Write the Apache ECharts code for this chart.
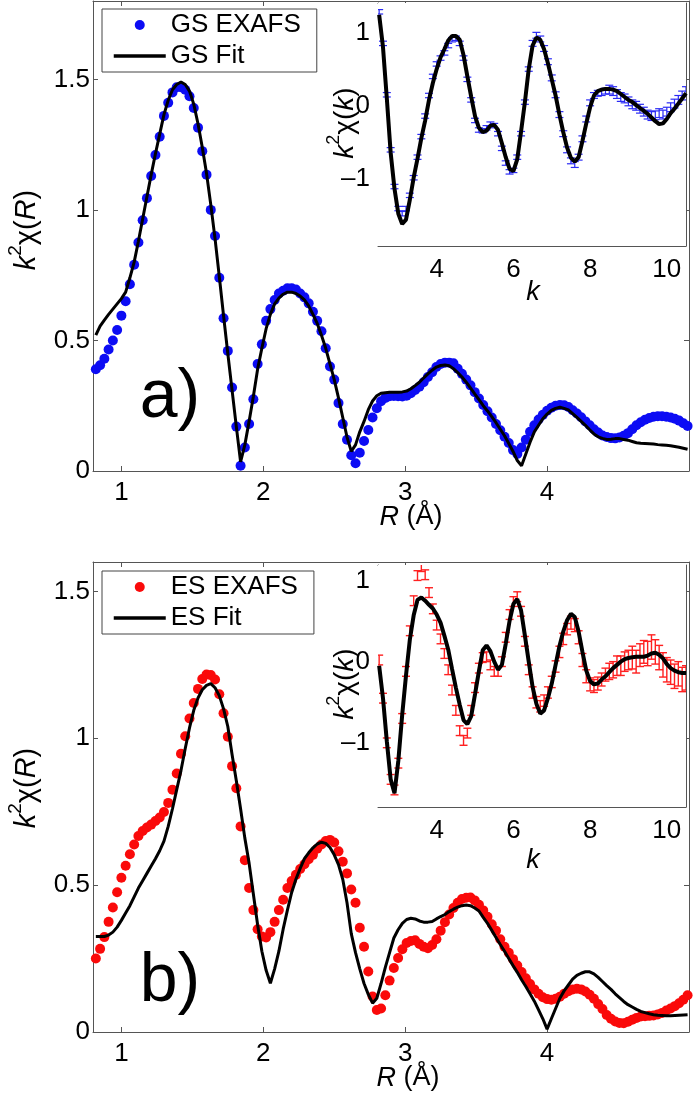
<!DOCTYPE html>
<html>
<head>
<meta charset="utf-8">
<script src="https://cdn.jsdelivr.net/npm/echarts@6/dist/echarts.min.js"></script>
<style>html,body{margin:0;padding:0;background:#fff;}#c{width:695px;height:1098px;}</style>
</head>
<body>
<div id="c"></div>
<script>
// ---------- DATA ----------
const rGrid = [0.82,0.85,0.88,0.91,0.94,0.97,1.00,1.03,1.06,1.09,
1.12,1.15,1.18,1.21,1.24,1.27,1.30,1.33,1.36,1.39,
1.42,1.45,1.48,1.51,1.54,1.57,1.60,1.63,1.66,1.69,
1.72,1.75,1.78,1.81,1.84,1.87,1.90,1.93,1.96,1.99,
2.02,2.05,2.08,2.11,2.14,2.17,2.20,2.23,2.26,2.29,
2.32,2.35,2.38,2.41,2.44,2.47,2.50,2.53,2.56,2.59,
2.62,2.65,2.68,2.71,2.74,2.77,2.80,2.83,2.86,2.89,
2.92,2.95,2.98,3.01,3.04,3.07,3.10,3.13,3.16,3.19,
3.22,3.25,3.28,3.31,3.34,3.37,3.40,3.43,3.46,3.49,
3.52,3.55,3.58,3.61,3.64,3.67,3.70,3.73,3.76,3.79,
3.82,3.85,3.88,3.91,3.94,3.97,4.00,4.03,4.06,4.09,
4.12,4.15,4.18,4.21,4.24,4.27,4.30,4.33,4.36,4.39,
4.42,4.45,4.48,4.51,4.54,4.57,4.60,4.63,4.66,4.69,
4.72,4.75,4.78,4.81,4.84,4.87,4.90,4.93,4.96,4.99];

const gsExafsR = [0.39,0.405,0.43,0.465,0.50,0.54,0.595,0.65,0.715,0.79,
0.875,0.96,1.045,1.13,1.21,1.28,1.36,1.41,1.45,1.47,
1.47,1.46,1.435,1.39,1.315,1.225,1.135,1.00,0.90,0.74,
0.585,0.46,0.32,0.17,0.02,0.09,0.18,0.275,0.41,0.485,
0.575,0.62,0.655,0.68,0.69,0.70,0.70,0.695,0.68,0.665,
0.642,0.61,0.575,0.535,0.47,0.40,0.35,0.26,0.18,0.12,
0.06,0.03,0.07,0.115,0.157,0.205,0.24,0.267,0.28,0.286,
0.287,0.286,0.285,0.288,0.298,0.31,0.323,0.34,0.36,0.378,
0.398,0.41,0.415,0.415,0.413,0.392,0.372,0.35,0.328,0.302,
0.278,0.253,0.229,0.205,0.18,0.156,0.131,0.107,0.08,0.065,
0.09,0.12,0.15,0.175,0.197,0.215,0.231,0.242,0.25,0.253,
0.252,0.245,0.233,0.22,0.206,0.19,0.175,0.16,0.147,0.136,
0.13,0.126,0.125,0.128,0.135,0.145,0.16,0.175,0.187,0.196,
0.203,0.208,0.21,0.21,0.208,0.205,0.2,0.193,0.183,0.172];

const gsFitR = [0.52,0.555,0.578,0.60,0.62,0.64,0.66,0.685,0.74,0.80,
0.88,0.965,1.05,1.135,1.215,1.29,1.365,1.42,1.46,1.48,
1.49,1.48,1.455,1.405,1.33,1.24,1.14,1.02,0.89,0.745,
0.595,0.45,0.31,0.17,0.035,0.10,0.19,0.285,0.39,0.47,
0.545,0.60,0.64,0.662,0.677,0.685,0.685,0.68,0.67,0.655,
0.632,0.60,0.565,0.52,0.47,0.41,0.35,0.28,0.205,0.13,
0.075,0.10,0.15,0.19,0.235,0.268,0.288,0.298,0.30,0.302,
0.302,0.302,0.303,0.306,0.315,0.327,0.34,0.356,0.372,0.386,
0.398,0.404,0.406,0.403,0.392,0.377,0.36,0.34,0.318,0.295,
0.273,0.25,0.23,0.208,0.185,0.16,0.135,0.105,0.075,0.04,
0.02,0.065,0.11,0.15,0.175,0.2,0.218,0.232,0.24,0.244,
0.24,0.234,0.22,0.205,0.19,0.175,0.158,0.142,0.131,0.125,
0.121,0.122,0.124,0.124,0.121,0.118,0.113,0.108,0.106,0.105,
0.104,0.103,0.101,0.1,0.099,0.097,0.094,0.091,0.087,0.083];

const esExafsR = [0.25,0.283,0.323,0.375,0.424,0.476,0.525,0.566,0.605,0.638,
0.667,0.684,0.696,0.706,0.718,0.73,0.749,0.78,0.825,0.88,
0.947,1.007,1.067,1.12,1.168,1.202,1.217,1.215,1.2,1.15,
1.085,1.005,0.905,0.83,0.70,0.585,0.49,0.415,0.35,0.325,
0.322,0.34,0.375,0.415,0.45,0.49,0.514,0.535,0.555,0.571,
0.588,0.603,0.624,0.638,0.65,0.654,0.645,0.615,0.58,0.54,
0.485,0.44,0.355,0.29,0.206,0.121,0.075,0.08,0.125,0.175,
0.218,0.252,0.282,0.303,0.31,0.312,0.3,0.29,0.285,0.296,
0.316,0.345,0.374,0.4,0.422,0.44,0.453,0.457,0.458,0.448,
0.433,0.414,0.392,0.367,0.345,0.316,0.29,0.27,0.248,0.226,
0.204,0.183,0.163,0.145,0.13,0.118,0.112,0.11,0.113,0.12,
0.13,0.139,0.145,0.147,0.145,0.138,0.127,0.113,0.095,0.078,
0.058,0.045,0.036,0.031,0.03,0.035,0.042,0.048,0.053,0.054,
0.055,0.056,0.06,0.065,0.073,0.08,0.088,0.098,0.11,0.125];

const esFitR = [0.325,0.325,0.325,0.33,0.34,0.357,0.38,0.405,0.43,0.46,
0.49,0.515,0.54,0.565,0.59,0.617,0.65,0.70,0.76,0.825,
0.89,0.965,1.035,1.095,1.137,1.165,1.18,1.186,1.172,1.145,
1.1,1.04,0.945,0.855,0.76,0.66,0.575,0.47,0.365,0.275,
0.21,0.166,0.215,0.275,0.35,0.415,0.475,0.52,0.557,0.59,
0.61,0.627,0.64,0.646,0.642,0.628,0.603,0.57,0.52,0.44,
0.335,0.27,0.215,0.165,0.128,0.098,0.115,0.165,0.22,0.27,
0.32,0.348,0.37,0.383,0.387,0.385,0.378,0.374,0.374,0.376,
0.385,0.393,0.4,0.41,0.418,0.425,0.43,0.432,0.43,0.422,
0.412,0.39,0.37,0.346,0.322,0.298,0.275,0.25,0.226,0.203,
0.178,0.155,0.13,0.105,0.075,0.045,0.01,0.045,0.08,0.115,
0.14,0.16,0.18,0.193,0.2,0.205,0.205,0.198,0.186,0.172,
0.158,0.145,0.13,0.117,0.104,0.093,0.085,0.077,0.07,0.066,
0.062,0.059,0.057,0.056,0.055,0.055,0.056,0.057,0.058,0.059];

const kGrid = [2.5,2.6,2.7,2.8,2.9,3.0,3.1,3.2,3.3,3.4,
3.5,3.6,3.7,3.8,3.9,4.0,4.1,4.2,4.3,4.4,
4.5,4.6,4.7,4.8,4.9,5.0,5.1,5.2,5.3,5.4,
5.5,5.6,5.7,5.8,5.9,6.0,6.1,6.2,6.3,6.4,
6.5,6.6,6.7,6.8,6.9,7.0,7.1,7.2,7.3,7.4,
7.5,7.6,7.7,7.8,7.9,8.0,8.1,8.2,8.3,8.4,
8.5,8.6,8.7,8.8,8.9,9.0,9.1,9.2,9.3,9.4,
9.5,9.6,9.7,9.8,9.9,10.0,10.1,10.2,10.3,10.4,
10.5];

const gsExafsK = [1.28,0.85,0.15,-0.6,-1.1,-1.4,-1.47,-1.4,-1.22,-0.98,
-0.7,-0.42,-0.14,0.14,0.4,0.57,0.65,0.72,0.82,0.9,
0.92,0.85,0.65,0.36,0.08,-0.2,-0.33,-0.34,-0.3,-0.25,
-0.27,-0.38,-0.58,-0.78,-0.9,-0.88,-0.7,-0.38,0.05,0.5,
0.85,0.96,0.91,0.78,0.6,0.38,0.15,-0.12,-0.38,-0.6,
-0.75,-0.8,-0.7,-0.45,-0.18,0.04,0.14,0.17,0.18,0.2,
0.22,0.2,0.16,0.12,0.1,0.06,0.02,0.0,-0.04,-0.08,
-0.12,-0.14,-0.13,-0.1,-0.12,-0.08,-0.02,0.03,0.08,0.14,
0.2];

const gsErrK = [0.03,0.03,0.03,0.03,0.03,0.03,0.03,0.03,0.03,0.03,
0.03,0.03,0.03,0.03,0.03,0.03,0.03,0.03,0.03,0.03,
0.03,0.03,0.03,0.03,0.03,0.03,0.03,0.03,0.03,0.03,
0.03,0.03,0.03,0.03,0.03,0.03,0.03,0.03,0.03,0.03,
0.04,0.04,0.04,0.04,0.04,0.04,0.04,0.04,0.04,0.04,
0.04,0.04,0.04,0.04,0.04,0.04,0.04,0.04,0.04,0.04,
0.06,0.06,0.06,0.06,0.06,0.06,0.06,0.06,0.06,0.06,
0.06,0.06,0.06,0.06,0.06,0.06,0.06,0.06,0.06,0.06,
0.06];

const gsFitK = [1.24,0.8,0.1,-0.64,-1.13,-1.47,-1.61,-1.55,-1.28,-0.98,
-0.72,-0.44,-0.2,0.08,0.31,0.5,0.66,0.77,0.89,0.95,
0.95,0.9,0.69,0.4,0.12,-0.14,-0.3,-0.36,-0.34,-0.27,
-0.26,-0.33,-0.51,-0.7,-0.86,-0.89,-0.73,-0.35,0.05,0.5,
0.82,0.93,0.9,0.77,0.58,0.36,0.14,-0.12,-0.36,-0.57,
-0.71,-0.76,-0.7,-0.48,-0.24,-0.02,0.14,0.2,0.22,0.23,
0.23,0.22,0.2,0.16,0.12,0.08,0.05,0.01,-0.03,-0.07,
-0.11,-0.16,-0.21,-0.25,-0.24,-0.18,-0.1,-0.04,0.03,0.1,
0.17];

const esExafsK = [0.02,-0.45,-1.0,-1.45,-1.58,-1.25,-0.7,-0.12,0.38,0.75,
1.06,1.17,1.07,0.85,0.65,0.45,0.28,0.1,-0.1,-0.35,
-0.6,-0.85,-0.97,-0.88,-0.6,-0.32,-0.08,0.05,0.06,-0.04,
-0.12,-0.12,0.0,0.3,0.58,0.74,0.8,0.62,0.25,-0.1,
-0.38,-0.5,-0.55,-0.48,-0.38,-0.25,-0.06,0.12,0.28,0.4,
0.48,0.45,0.3,0.02,-0.18,-0.28,-0.3,-0.27,-0.22,-0.16,
-0.12,-0.1,-0.05,-0.05,0.0,0.02,0.05,0.0,0.08,0.12,
0.1,0.18,0.12,0.05,-0.04,-0.1,-0.13,-0.18,-0.15,-0.22,
-0.2];

const esErrK = [0.06,0.06,0.06,0.06,0.06,0.06,0.06,0.06,0.06,0.06,
0.06,0.06,0.06,0.06,0.06,0.06,0.06,0.06,0.06,0.06,
0.06,0.06,0.06,0.06,0.06,0.06,0.06,0.06,0.06,0.06,
0.06,0.06,0.06,0.06,0.06,0.06,0.06,0.06,0.06,0.06,
0.07,0.07,0.07,0.07,0.07,0.07,0.07,0.07,0.07,0.07,
0.08,0.08,0.08,0.08,0.08,0.08,0.08,0.08,0.08,0.08,
0.1,0.1,0.12,0.12,0.12,0.12,0.14,0.14,0.14,0.14,
0.15,0.15,0.15,0.15,0.15,0.15,0.15,0.15,0.15,0.15,
0.15];

const esFitK = [-0.05,-0.45,-0.98,-1.45,-1.62,-1.22,-0.66,-0.17,0.27,0.57,
0.76,0.79,0.75,0.7,0.655,0.58,0.48,0.32,0.15,-0.09,
-0.32,-0.53,-0.72,-0.77,-0.67,-0.4,-0.12,0.14,0.2,0.13,
0.0,-0.1,-0.04,0.22,0.5,0.71,0.77,0.63,0.32,0.0,
-0.31,-0.52,-0.64,-0.6,-0.45,-0.27,-0.04,0.19,0.37,0.51,
0.59,0.55,0.37,0.12,-0.11,-0.24,-0.28,-0.27,-0.22,-0.18,
-0.13,-0.08,-0.04,0.0,0.03,0.045,0.055,0.06,0.06,0.06,
0.075,0.1,0.11,0.085,0.04,-0.03,-0.08,-0.11,-0.13,-0.14,
-0.14];

const rTicks = [1, 2, 3, 4];
const kTicks = [4, 6, 8, 10];
const yTicksA = [0, 0.5, 1, 1.5];
const yTicksB = [0, 0.5, 1, 1.5];
const yTicksK = [-1, 0, 1];
const legendA = ['GS EXAFS', 'GS Fit'];
const legendB = ['ES EXAFS', 'ES Fit'];

// ---------- CHART ----------
const FONT = 'Liberation Sans, Arial, Helvetica, sans-serif';
const AX = '#555';
const chart = echarts.init(document.getElementById('c'), null, {renderer: 'canvas'});

function fmt(v) { return v < 0 ? '\u2013' + Math.abs(v) : String(v); }

function xAx(grid, min, max, ticks, top, margin) {
  return {
    type: 'value', gridIndex: grid, min: min, max: max, position: top ? 'top' : 'bottom',
    axisLine: {show: true, onZero: false, lineStyle: {color: AX, width: 1}},
    axisTick: {show: true, inside: true, length: 5, customValues: ticks, lineStyle: {color: AX}},
    axisLabel: {show: !top, customValues: ticks, margin: margin, fontSize: 26, color: '#000', fontFamily: FONT, formatter: fmt},
    splitLine: {show: false}
  };
}
function yAx(grid, min, max, ticks, right, margin) {
  return {
    type: 'value', gridIndex: grid, min: min, max: max, position: right ? 'right' : 'left',
    axisLine: {show: true, onZero: false, lineStyle: {color: AX, width: 1}},
    axisTick: {show: true, inside: true, length: 5, customValues: ticks, lineStyle: {color: AX}},
    axisLabel: {show: !right, customValues: ticks, margin: margin, fontSize: 26, color: '#000', fontFamily: FONT, formatter: fmt},
    splitLine: {show: false}
  };
}

function errBars(color, hw, lw) {
  return function (params, api) {
    const k = api.value(0), v = api.value(1), e = api.value(2);
    const lo = api.coord([k, v - e]), hi = api.coord([k, v + e]);
    const st = {stroke: color, lineWidth: lw};
    return {type: 'group', children: [
      {type: 'line', shape: {x1: lo[0], y1: lo[1], x2: hi[0], y2: hi[1]}, style: st},
      {type: 'line', shape: {x1: lo[0] - hw, y1: lo[1], x2: lo[0] + hw, y2: lo[1]}, style: st},
      {type: 'line', shape: {x1: hi[0] - hw, y1: hi[1], x2: hi[0] + hw, y2: hi[1]}, style: st}
    ]};
  };
}

function richLabel(size, last) {
  return {
    text: '{i|k}{s|2}{n|\u03c7(}{i|' + last + '}{n|)}',
    rich: {
      i: {fontStyle: 'italic', fontSize: size, fontFamily: FONT, fill: '#000', lineHeight: size + 6, verticalAlign: 'bottom'},
      n: {fontSize: size, fontFamily: FONT, fill: '#000', lineHeight: size + 6, verticalAlign: 'bottom'},
      s: {fontSize: Math.round(size * 0.65), fontFamily: FONT, fill: '#000', lineHeight: Math.round(size * 0.65), verticalAlign: 'top'}
    },
    align: 'center', verticalAlign: 'middle'
  };
}

function legendOf(names, top) {
  return {
    data: [{name: names[0]}, {name: names[1], itemStyle: {opacity: 0}, lineStyle: {width: 3.5, color: '#000'}}],
    left: 102, top: top,
    orient: 'vertical', itemWidth: 52, itemHeight: 10, itemGap: 3,
    padding: [2, 16, 2, 10], borderColor: '#444', borderWidth: 1, backgroundColor: '#fff',
    selectedMode: false, textStyle: {fontSize: 26, color: '#000', fontFamily: FONT, lineHeight: 28}
  };
}

const option = {
  animation: false,
  backgroundColor: '#fff',
  grid: [
    {left: 93, top: 1, width: 596, height: 470, show: false},
    {left: 378, top: 3, width: 308, height: 243, show: true, backgroundColor: '#fff', borderWidth: 0, z: 5},
    {left: 93, top: 562, width: 596, height: 470, show: false},
    {left: 378, top: 565, width: 308, height: 242, show: true, backgroundColor: '#fff', borderWidth: 0, z: 5}
  ],
  xAxis: [
    xAx(0, 0.8, 5.0, rTicks, false, 9), xAx(0, 0.8, 5.0, rTicks, true, 8),
    xAx(1, 2.47, 10.5, kTicks, false, 11), xAx(1, 2.47, 10.5, kTicks, true, 8),
    xAx(2, 0.8, 5.0, rTicks, false, 9), xAx(2, 0.8, 5.0, rTicks, true, 8),
    xAx(3, 2.47, 10.5, kTicks, false, 11), xAx(3, 2.47, 10.5, kTicks, true, 8)
  ],
  yAxis: [
    yAx(0, 0, 1.8, yTicksA, false, 3), yAx(0, 0, 1.8, yTicksA, true, 3),
    yAx(1, -1.91, 1.4, yTicksK, false, 8), yAx(1, -1.91, 1.4, yTicksK, true, 8),
    yAx(2, 0, 1.6, yTicksB, false, 3), yAx(2, 0, 1.6, yTicksB, true, 3),
    yAx(3, -1.79, 1.19, yTicksK, false, 8), yAx(3, -1.79, 1.19, yTicksK, true, 8)
  ],
  legend: [legendOf(legendA, 9), legendOf(legendB, 571)],
  series: [
    {name: legendA[0], type: 'scatter', xAxisIndex: 0, yAxisIndex: 0, symbolSize: 10,
     itemStyle: {color: '#0c0cf4', opacity: 1}, data: rGrid.map((r, i) => [r, gsExafsR[i]]), z: 2},
    {name: legendA[1], type: 'line', xAxisIndex: 0, yAxisIndex: 0, symbol: 'none',
     lineStyle: {color: '#000', width: 3}, itemStyle: {color: '#000'}, data: rGrid.map((r, i) => [r, gsFitR[i]]), z: 3},
    {type: 'custom', xAxisIndex: 2, yAxisIndex: 2, renderItem: errBars('#2a2af5', 4, 1.2), clip: true, encode: {x: 0, y: 1},
     data: kGrid.map((k, i) => [k, gsExafsK[i], gsErrK[i]]), z: 6},
    {type: 'line', xAxisIndex: 2, yAxisIndex: 2, symbol: 'none', lineStyle: {color: '#000', width: 4},
     data: kGrid.map((k, i) => [k, gsFitK[i]]), z: 7},
    {name: legendB[0], type: 'scatter', xAxisIndex: 4, yAxisIndex: 4, symbolSize: 10,
     itemStyle: {color: '#fa0a0a', opacity: 1}, data: rGrid.map((r, i) => [r, esExafsR[i]]), z: 2},
    {name: legendB[1], type: 'line', xAxisIndex: 4, yAxisIndex: 4, symbol: 'none',
     lineStyle: {color: '#000', width: 3}, itemStyle: {color: '#000'}, data: rGrid.map((r, i) => [r, esFitR[i]]), z: 3},
    {type: 'custom', xAxisIndex: 6, yAxisIndex: 6, renderItem: errBars('#ff2020', 4, 1.4), clip: true, encode: {x: 0, y: 1},
     data: kGrid.map((k, i) => [k, esExafsK[i], esErrK[i]]), z: 6},
    {type: 'line', xAxisIndex: 6, yAxisIndex: 6, symbol: 'none', lineStyle: {color: '#000', width: 4},
     data: kGrid.map((k, i) => [k, esFitK[i]]), z: 7}
  ],
  graphic: [
    {type: 'text', x: 24, y: 230, rotation: Math.PI / 2, style: richLabel(29, 'R'), z: 10},
    {type: 'text', x: 24, y: 788, rotation: Math.PI / 2, style: richLabel(29, 'R'), z: 10},
    {type: 'text', x: 342, y: 123, rotation: Math.PI / 2, style: richLabel(28, 'k'), z: 10},
    {type: 'text', x: 342, y: 684, rotation: Math.PI / 2, style: richLabel(28, 'k'), z: 10},
    {type: 'text', x: 411, y: 517, style: {text: '{i|R}{n| (\u00c5)}', align: 'center', verticalAlign: 'middle',
      rich: {i: {fontStyle: 'italic', fontSize: 27, fontFamily: FONT, fill: '#000'}, n: {fontSize: 27, fontFamily: FONT, fill: '#000'}}}, z: 10},
    {type: 'text', x: 408, y: 1078, style: {text: '{i|R}{n| (\u00c5)}', align: 'center', verticalAlign: 'middle',
      rich: {i: {fontStyle: 'italic', fontSize: 27, fontFamily: FONT, fill: '#000'}, n: {fontSize: 27, fontFamily: FONT, fill: '#000'}}}, z: 10},
    {type: 'text', x: 533, y: 292, style: {text: 'k', fontStyle: 'italic', fontSize: 27, fontFamily: FONT, fill: '#000', align: 'center', verticalAlign: 'middle'}, z: 10},
    {type: 'text', x: 533, y: 860, style: {text: 'k', fontStyle: 'italic', fontSize: 27, fontFamily: FONT, fill: '#000', align: 'center', verticalAlign: 'middle'}, z: 10},
    {type: 'text', x: 170, y: 398, style: {text: 'a)', fontSize: 68, fontFamily: FONT, fill: '#000', align: 'center', verticalAlign: 'middle'}, z: 10},
    {type: 'text', x: 170, y: 982, style: {text: 'b)', fontSize: 68, fontFamily: FONT, fill: '#000', align: 'center', verticalAlign: 'middle'}, z: 10}
  ]
};
chart.setOption(option);
</script>
</body>
</html>
